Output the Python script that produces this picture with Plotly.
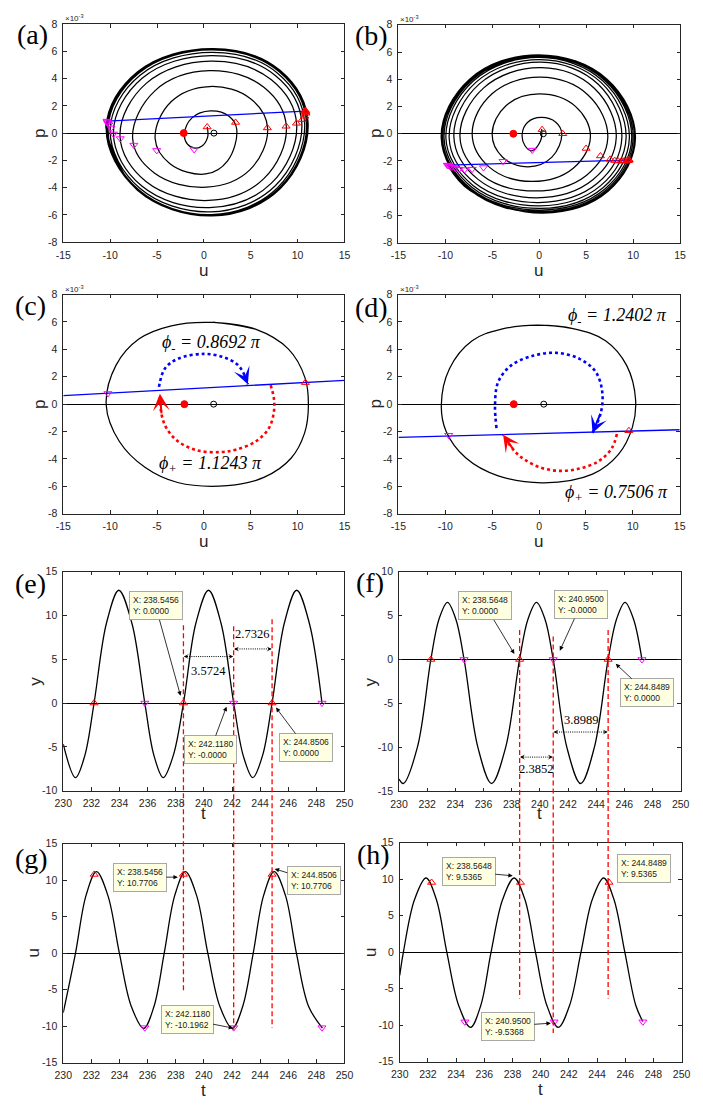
import plotly.graph_objects as go

W, H = 703, 1109

# ======================= DATA =======================
# tick labels
uv_ticks = [-15, -10, -5, 0, 5, 10, 15]
p_ticks = [-8, -6, -4, -2, 0, 2, 4, 6, 8]          # p in units of 1e-3
t_ticks = [230, 232, 234, 236, 238, 240, 242, 244, 246, 248, 250]
e_y_ticks = [-10, -5, 0, 5, 10, 15]
f_y_ticks = [-15, -10, -5, 0, 5, 10]
gh_u_ticks = [-15, -10, -5, 0, 5, 10, 15]

# (a) transient trajectory in (u, p)
a_traj_u = [0.35, 0.40, -0.20, -0.95, -1.75, -2.08, -1.27, 0.70, 2.68, 3.50, 2.53, 0.20, -3.62, -5.20, -3.50,
            0.60, 4.98, 6.80, 4.90, 0.30, -5.29, -7.60, -5.20, 0.60, 6.40, 8.80, 6.37, 0.50, -6.18, -8.95,
            -6.12, 0.70, 7.20, 9.90, 7.18, 0.60, -6.65, -9.65, -6.59, 0.80, 7.62, 10.45, 7.59, 0.70, -6.86,
            -10.00, -6.81, 0.90, 7.86, 10.75, 7.83, 0.80, -6.99, -10.22, -6.96, 0.90, 8.01, 10.95, 8.01, 0.90,
            -7.05, -10.35, -7.02, 1.00, 8.11, 11.05, 8.08, 0.90, -7.10, -10.42, -7.07, 1.00, 8.15, 11.12, 8.13,
            0.90, -7.12, -10.45, -10.33]
a_traj_p = [0.45, -0.30, -0.95, -1.10, -0.81, -0.10, 1.12, 1.63, 1.24, 0.30, -2.03, -3.00, -2.24, -0.40, 2.30,
            3.42, 2.52, 0.35, -2.70, -3.97, -2.92, -0.40, 3.12, 4.58, 3.37, 0.45, -3.36, -4.94, -3.55, -0.20,
            3.67, 5.28, 3.91, 0.60, -3.69, -5.47, -3.87, 0.00, 4.02, 5.69, 4.23, 0.70, -3.88, -5.78, -4.03,
            0.20, 4.25, 5.93, 4.40, 0.70, -4.02, -5.98, -4.14, 0.30, 4.40, 6.10, 4.52, 0.70, -4.05, -6.02,
            -4.15, 0.35, 4.45, 6.15, 4.55, 0.70, -4.07, -6.05, -4.16, 0.40, 4.50, 6.20, 4.59, 0.70, -4.09,
            -6.08, -4.18, 0.40, 0.88]
a_up_u = [0.35, 3.38, 6.77, 8.77, 9.88, 10.50, 10.75, 10.88, 10.86, 10.85, 10.84, 10.83]
a_up_p = [0.45, 0.78, 0.38, 0.50, 0.72, 0.99, 1.24, 1.45, 1.52, 1.57, 1.62, 1.66]
a_dn_u = [-1.04, -5.03, -7.47, -8.92, -9.65, -9.90, -10.14, -10.25, -10.30, -10.33]
a_dn_p = [-1.20, -1.27, -0.88, -0.40, -0.06, 0.38, 0.62, 0.75, 0.82, 0.88]
a_fix_u = [-2.15]
a_ctr_u = [1.07]
a_sec_u = [-10.33, 10.84]
a_sec_p = [0.88, 1.62]

# (b) transient trajectory in (u, p)
b_traj_u = [0.25, 0.15, -0.78, -1.52, -1.82, -1.23, 0.20, 1.76, 2.40, 1.35, -1.20, -3.90, -5.02, -3.55, 0.00,
            3.85, 5.45, 3.62, -0.80, -5.29, -7.15, -5.03, 0.10, 5.19, 7.30, 5.01, -0.50, -6.12, -8.45, -5.92,
            0.20, 5.86, 8.20, 5.71, -0.30, -6.52, -9.10, -6.38, 0.20, 6.28, 8.80, 6.19, -0.10, -6.82, -9.60,
            -6.76, 0.10, 6.57, 9.25, 6.54, 0.00, -7.03, -9.95, -7.03, 0.00, 6.79, 9.60, 6.82, 0.10, -7.15,
            -10.15, -7.18, 0.00, 6.96, 9.85, 6.99, 0.10, -7.25, -10.30, -7.28, 0.00, 7.07, 10.00, 7.13, 0.20,
            -7.29, -10.40, -7.35, 0.00, 7.18, 10.15, 7.26, 0.30, -7.30, -10.45, -7.42, -0.10, 7.22, 10.25,
            7.36, 0.40, -7.31, -9.75]
b_traj_p = [0.35, -0.50, -1.25, -0.88, 0.00, 0.85, 1.20, 0.85, 0.00, -1.72, -2.43, -1.72, 0.00, 2.06, 2.92,
            2.01, -0.20, -2.53, -3.50, -2.47, 0.00, 2.94, 4.15, 2.85, -0.30, -3.06, -4.20, -3.03, -0.20, 3.37,
            4.85, 3.34, -0.30, -3.38, -4.70, -3.35, -0.20, 3.66, 5.25, 3.63, -0.30, -3.64, -5.05, -3.64, -0.30,
            3.77, 5.45, 3.77, -0.30, -3.81, -5.30, -3.81, -0.30, 3.87, 5.60, 3.87, -0.30, -3.94, -5.48, -3.94,
            -0.30, 3.93, 5.68, 3.93, -0.30, -4.05, -5.60, -4.05, -0.30, 3.97, 5.74, 3.97, -0.30, -4.12, -5.70,
            -4.12, -0.30, 4.00, 5.78, 4.00, -0.30, -4.17, -5.78, -4.17, -0.30, 4.01, 5.80, 4.01, -0.30, -4.20,
            -5.82, -4.20, -2.30]
b_up_u = [0.30, 2.50, 4.99, 6.52, 7.55, 8.04, 8.40, 8.75, 9.05, 9.30, 9.45, 9.55, 9.58]
b_up_p = [0.30, 0.00, -1.08, -1.63, -1.88, -1.97, -2.00, -2.00, -2.00, -2.00, -1.98, -1.95, -1.92]
b_dn_u = [-0.75, -3.86, -5.94, -7.15, -7.95, -8.55, -8.95, -9.30, -9.55, -9.70, -9.80]
b_dn_p = [-1.20, -2.02, -2.48, -2.60, -2.63, -2.60, -2.52, -2.45, -2.38, -2.33, -2.30]
b_fix_u = [-2.76]
b_ctr_u = [0.43]
b_sec_u = [-9.80, 9.58]
b_sec_p = [-2.30, -1.93]

# (c) steady cycle (closed; first point repeated after the last for a smooth join)
c_cyc_u = [1.00, 5.50, 9.00, 10.80, 11.15, 10.75, 9.30, 6.40, 2.50, -2.80, -6.25, -9.03, -10.42, -9.38, -6.94,
           -3.47, 1.00, 5.50]
c_cyc_p = [5.96, 5.47, 4.03, 1.90, -0.10, -2.10, -3.95, -5.35, -5.95, -5.72, -4.63, -2.71, -0.06, 2.83, 4.75,
           5.72, 5.96, 5.47]
c_up_u, c_up_p = [10.83], [1.57]
c_dn_u, c_dn_p = [-10.24], [0.78]
c_fix_u, c_ctr_u = [-2.08], [1.04]
c_sec_u, c_sec_p = [-15, 15], [0.62, 1.74]
c_arc_minus_u = [-4.79, -4.17, -2.78, 0.00, 2.08, 3.47, 4.17, 4.69]
c_arc_minus_p = [1.26, 2.59, 3.31, 3.67, 3.43, 2.95, 2.35, 1.45]
c_arc_plus_u = [7.12, 7.47, 7.47, 6.94, 5.56, 3.47, 1.74, -0.69, -2.78, -3.99, -4.51, -4.69]
c_arc_plus_p = [1.38, 0.42, -0.54, -1.75, -2.71, -3.31, -3.50, -3.38, -2.71, -1.75, -0.78, 0.75]
c_phi_minus, c_phi_plus = 0.8692, 1.1243

# (d) steady cycle (closed; first point repeated after the last for a smooth join)
d_cyc_u = [-0.20, 3.62, 7.09, 9.34, 10.30, 9.95, 8.47, 5.70, 0.50, -4.36, -7.83, -9.91, -10.43, -9.56, -7.14,
           -4.01, -0.20, 3.62]
d_cyc_p = [5.76, 5.52, 4.63, 2.83, 0.30, -1.70, -3.67, -5.11, -5.74, -5.23, -3.91, -1.99, -0.06, 2.59, 4.63,
           5.47, 5.76, 5.52]
d_up_u, d_up_p = [9.58], [-1.94]
d_dn_u, d_dn_p = [-9.64], [-2.27]
d_fix_u, d_ctr_u = [-2.70], [0.50]
d_sec_u, d_sec_p = [-15, 15], [-2.42, -1.87]
d_arc_minus_u = [-4.54, -4.70, -4.36, -2.97, -0.54, 1.88, 4.31, 6.05, 6.74, 6.60, 5.70]
d_arc_minus_p = [-1.75, -0.06, 1.62, 2.83, 3.55, 3.74, 3.31, 2.35, 0.90, -0.60, -2.10]
d_arc_plus_u = [8.30, 7.78, 6.39, 4.31, 2.23, 0.15, -1.58, -2.62, -3.84]
d_arc_plus_p = [-2.18, -3.19, -4.15, -4.70, -4.87, -4.63, -4.03, -3.43, -2.23]
d_phi_minus, d_phi_plus = 1.2402, 0.7506

# (e) y(t)
e_t = [230.0, 230.87, 231.53, 232.19, 233.07, 233.95, 234.88, 235.80, 236.45, 237.11, 237.82, 238.55, 239.43,
       240.33, 241.22, 242.12, 242.80, 243.48, 244.17, 244.85, 245.72, 246.60, 247.50, 248.40]
e_y = [-4.7, -8.5, -6.0, 0.0, 9.1, 12.86, 9.1, 0.0, -6.0, -8.5, -6.0, 0.0, 9.1, 12.86, 9.1, 0.0, -6.0, -8.5,
       -6.0, 0.0, 9.1, 12.86, 9.1, 0.0]
e_up_t, e_up_y = [232.19, 238.5456, 244.8506], [0.0, 0.0, 0.0]
e_dn_t, e_dn_y = [235.80, 242.1180, 248.40], [0.0, 0.0, 0.0]
e_tip_x = [238.5456, 242.1180, 244.8506]
e_tip_y = [0.0, -0.0, 0.0]

# (f) y(t)
f_t = [230.0, 230.30, 231.30, 232.26, 232.84, 233.44, 234.03, 234.62, 235.60, 236.57, 237.57, 238.56, 239.16,
       239.76, 240.36, 240.95, 241.92, 242.90, 243.87, 244.85, 245.45, 246.05, 246.65, 247.25]
f_y = [-13.6, -14.1, -10.0, 0.0, 4.6, 6.5, 4.6, 0.0, -10.0, -14.1, -10.0, 0.0, 4.6, 6.5, 4.6, 0.0, -10.0,
       -14.1, -10.0, 0.0, 4.6, 6.5, 4.6, 0.0]
f_up_t, f_up_y = [232.26, 238.5648, 244.8489], [0.0, 0.0, 0.0]
f_dn_t, f_dn_y = [234.62, 240.9500, 247.25], [0.0, 0.0, 0.0]
f_tip_x = [238.5648, 240.9500, 244.8489]
f_tip_y = [0.0, -0.0, 0.0]

# (g) u(t)
g_t = [230.0, 230.87, 231.62, 232.36, 233.17, 233.99, 234.84, 235.72, 236.45, 237.18, 237.93, 238.68, 239.48,
       240.28, 241.14, 242.02, 242.76, 243.51, 244.25, 245.00, 245.80, 246.58, 247.45, 248.43]
g_u = [-8.15, 0.0, 7.9, 11.15, 7.9, 0.0, -7.3, -10.3, -7.3, 0.0, 7.9, 11.15, 7.9, 0.0, -7.3, -10.3, -7.3, 0.0,
       7.9, 11.15, 7.9, 0.0, -7.3, -10.25]
g_up_t, g_up_u = [232.20, 238.5456, 244.8506], [10.77, 10.7706, 10.7706]
g_dn_t, g_dn_u = [235.80, 242.1180, 248.40], [-10.20, -10.1962, -10.20]
g_tip_x = [238.5456, 244.8506, 242.1180]
g_tip_y = [10.7706, 10.7706, -10.1962]

# (h) u(t)
h_t = [230.0, 230.26, 231.05, 231.87, 232.60, 233.34, 234.18, 235.02, 235.75, 236.48, 237.30, 238.12, 238.88,
       239.63, 240.44, 241.25, 242.05, 242.86, 243.66, 244.47, 245.20, 245.97, 246.75, 247.25]
h_u = [-3.2, 0.0, 7.2, 10.15, 7.2, 0.0, -7.3, -10.3, -7.3, 0.0, 7.2, 10.15, 7.2, 0.0, -7.3, -10.3, -7.3, 0.0,
       7.2, 10.15, 7.2, 0.0, -7.3, -9.5]
h_up_t, h_up_u = [232.26, 238.5648, 244.8489], [9.5365, 9.5365, 9.5365]
h_dn_t, h_dn_u = [234.62, 240.9500, 247.25], [-9.5368, -9.5368, -9.5368]
h_tip_x = [238.5648, 240.9500, 244.8489]
h_tip_y = [9.5365, -9.5368, 9.5365]

# ======================= LAYOUT HELPERS =======================
FRAMES = {  # left, right, top, bottom (pixels)
    1: (55.7, 344.3, 18.3, 238.7), 2: (399.7, 688.7, 19.0, 239.3),
    3: (55.7, 344.3, 291.7, 513.3), 4: (399.7, 688.3, 291.7, 513.3),
    5: (55.7, 344.3, 571.7, 793.3), 6: (400.3, 689.3, 571.7, 794.0),
    7: (55.7, 344.3, 846.7, 1068.3), 8: (401.0, 690.3, 845.7, 1067.3),
}


def X(px):
    return px / W


def Y(py):
    return 1 - py / H


def xn(k):
    return 'x' if k == 1 else f'x{k}'


def yn(k):
    return 'y' if k == 1 else f'y{k}'


RED, MAG, BLUE, INK = '#ff0000', '#ff00ff', '#0000ff', '#262626'
SANS = 'Liberation Sans, Arial, sans-serif'
SERIF = 'Liberation Serif, Times New Roman, serif'

fig = go.Figure()


def tr(k, x, y, **kw):
    fig.add_trace(go.Scatter(x=x, y=y, xaxis=xn(k), yaxis=yn(k), showlegend=False, hoverinfo='skip', **kw))


def curve(k, x, y, color='black', width=1.2, smooth=1.1, dash=None):
    tr(k, x, y, mode='lines', line=dict(color=color, width=width, shape='spline', smoothing=smooth, dash=dash))


def marks(k, x, y, symbol, color, size=7, lw=1.0):
    tr(k, x, y, mode='markers', marker=dict(symbol=symbol, size=size, color=color, line=dict(color=color, width=lw)))


def head(k, tipx, tipy, tailx, taily, color, size, width, style=3):
    fig.add_annotation(xref=xn(k), yref=yn(k), x=tipx, y=tipy, ax=tailx, ay=taily, axref=xn(k), ayref=yn(k),
                       text='', showarrow=True, arrowhead=style, arrowsize=size, arrowwidth=width,
                       arrowcolor=color, standoff=0)


# ---------------- panels (a)-(d): phase plane ----------------
phase = [
    (1, a_traj_u, a_traj_p, a_up_u, a_up_p, a_dn_u, a_dn_p, a_fix_u, a_ctr_u, a_sec_u, a_sec_p),
    (2, b_traj_u, b_traj_p, b_up_u, b_up_p, b_dn_u, b_dn_p, b_fix_u, b_ctr_u, b_sec_u, b_sec_p),
    (3, c_cyc_u, c_cyc_p, c_up_u, c_up_p, c_dn_u, c_dn_p, c_fix_u, c_ctr_u, c_sec_u, c_sec_p),
    (4, d_cyc_u, d_cyc_p, d_up_u, d_up_p, d_dn_u, d_dn_p, d_fix_u, d_ctr_u, d_sec_u, d_sec_p),
]
for k, tu, tp, uu, up, du, dp, fx, cx, su, sp in phase:
    curve(k, tu, tp, width=1.25, smooth=1.1)
    tr(k, su, sp, mode='lines', line=dict(color=BLUE, width=1.3))
    if k == 3:
        curve(k, c_arc_minus_u, c_arc_minus_p, color=BLUE, width=2.6, smooth=1.0, dash='dot')
        curve(k, c_arc_plus_u, c_arc_plus_p, color=RED, width=2.6, smooth=1.0, dash='dot')
        head(k, c_arc_minus_u[-1], c_arc_minus_p[-1], c_arc_minus_u[-2], c_arc_minus_p[-2], BLUE, 1.4, 2)
        head(k, c_arc_plus_u[-1], c_arc_plus_p[-1], c_arc_plus_u[-2], c_arc_plus_p[-2], RED, 1.4, 2)
    if k == 4:
        curve(k, d_arc_minus_u, d_arc_minus_p, color=BLUE, width=2.6, smooth=1.0, dash='dot')
        curve(k, d_arc_plus_u, d_arc_plus_p, color=RED, width=2.6, smooth=1.0, dash='dot')
        head(k, d_arc_minus_u[-1], d_arc_minus_p[-1], d_arc_minus_u[-2], d_arc_minus_p[-2], BLUE, 1.4, 2)
        head(k, d_arc_plus_u[-1], d_arc_plus_p[-1], d_arc_plus_u[-2], d_arc_plus_p[-2], RED, 1.4, 2)
    marks(k, fx, [0] * len(fx), 'circle', RED, size=7)
    marks(k, cx, [0] * len(cx), 'circle-open', 'black', size=6)
    marks(k, uu, up, 'triangle-up-open', RED, size=7)
    marks(k, du, dp, 'triangle-down-open', MAG, size=7)

# phase labels
phi_txt = [
    (3, 0.85, 4.45, '-', c_phi_minus), (3, 0.73, -4.40, '+', c_phi_plus),
    (4, 8.38, 6.39, '-', d_phi_minus), (4, 8.28, -6.53, '+', d_phi_plus),
]
for k, x0, y0, sgn, val in phi_txt:
    fig.add_annotation(xref=xn(k), yref=yn(k), x=x0, y=y0, showarrow=False,
                       text=f'<i>\u03d5<sub>{sgn}</sub> = {val:.4f} \u03c0</i>',
                       font=dict(family=SERIF, size=18, color='black'))

# ---------------- panels (e)-(h): time series ----------------
series = [
    (5, e_t, e_y, e_up_t, e_up_y, e_dn_t, e_dn_y),
    (6, f_t, f_y, f_up_t, f_up_y, f_dn_t, f_dn_y),
    (7, g_t, g_u, g_up_t, g_up_u, g_dn_t, g_dn_u),
    (8, h_t, h_u, h_up_t, h_up_u, h_dn_t, h_dn_u),
]
for k, tt, vv, ut, uv, dt, dv in series:
    curve(k, tt, vv, width=1.3, smooth=1.0)
    marks(k, ut, uv, 'triangle-up-open', RED, size=7)
    marks(k, dt, dv, 'triangle-down-open', MAG, size=7)

# red dashed markers running through (e)/(g) and (f)/(h)
vlines = [
    (5, e_tip_x, [626, 627, 620], [998, 1035, 1033]),
    (6, f_tip_x, [630.7, 637.3, 630.7], [1003.3, 1038.3, 1003.3]),
]
for k, ts, tops, bots in vlines:
    for t, a, b in zip(ts, tops, bots):
        fig.add_shape(type='line', xref=xn(k), yref='paper', x0=t, x1=t, y0=Y(a), y1=Y(b),
                      line=dict(color=RED, width=1.3, dash='5px,3px'), layer='above')

# interval arrows
spans = [
    (5, e_tip_x[0], e_tip_x[1], 5.3, 240.36, 3.68),
    (5, e_tip_x[1], e_tip_x[2], 6.17, 243.40, 7.86),
    (6, f_tip_x[0], f_tip_x[1], -11.1, 239.74, -12.5),
    (6, f_tip_x[1], f_tip_x[2], -8.25, 242.92, -6.9),
]
for k, t1, t2, yv, lx, ly in spans:
    tr(k, [t1 + 0.1, t2 - 0.1], [yv, yv], mode='lines', line=dict(color='black', width=1, dash='1px,1.2px'))
    head(k, t2 - 0.03, yv, t2 - 0.4, yv, 'black', 0.85, 1)
    head(k, t1 + 0.03, yv, t1 + 0.4, yv, 'black', 0.85, 1)
    fig.add_annotation(xref=xn(k), yref=yn(k), x=lx, y=ly, showarrow=False, text=f'{t2 - t1:.4f}',
                       font=dict(family=SERIF, size=12.5, color='black'))

# data tips: (panel, X, Y, arrow tip x, arrow tip y, box dx, box dy in px)
tips = [
    (5, e_tip_x[0], e_tip_y[0], 238.34, 0.83, -25, -90),
    (5, e_tip_x[1], e_tip_y[1], 241.61, -0.41, -16, 43),
    (5, e_tip_x[2], e_tip_y[2], 245.13, -0.52, 30, 40),
    (6, f_tip_x[0], f_tip_y[0], 238.19, 0.63, -29, -48),
    (6, f_tip_x[1], f_tip_y[1], 241.42, 1.00, 21, -46),
    (6, f_tip_x[2], f_tip_y[2], 245.39, -0.49, 31, 29),
    (7, g_tip_x[0], g_tip_y[0], 238.15, 10.40, -38, 0),
    (7, g_tip_x[1], g_tip_y[1], 245.04, 11.53, 39, 12),
    (7, g_tip_x[2], g_tip_y[2], 242.08, -10.26, -46, -9),
    (8, h_tip_x[0], h_tip_y[0], 238.02, 10.45, -44, -4),
    (8, h_tip_x[1], h_tip_y[1], 240.72, -9.72, -43, 3),
]
TIPBOX = dict(bgcolor='#ffffe1', bordercolor='#a8a8a8', borderwidth=1, borderpad=3, align='left',
              font=dict(family=SANS, size=8.5, color='#1a1a1a'))
for k, xv, yv, px_, py_, dx, dy in tips:
    fig.add_annotation(xref=xn(k), yref=yn(k), x=px_, y=py_, ax=dx, ay=dy, text=f'X: {xv:.4f}<br>Y: {yv:.4f}',
                       showarrow=True, arrowhead=2, arrowsize=1.1, arrowwidth=0.8, arrowcolor='black', **TIPBOX)
fig.add_annotation(xref=xn(8), yref=yn(8), x=247.35, y=11.44, showarrow=False,
                   text=f'X: {h_tip_x[2]:.4f}<br>Y: {h_tip_y[2]:.4f}', **TIPBOX)

# ---------------- axes ----------------
AX = dict(showline=True, linecolor=INK, linewidth=0.8, mirror='ticks', ticks='inside', ticklen=3.5,
          tickwidth=0.8, tickcolor=INK, showgrid=False, fixedrange=True, ticklabelstandoff=3,
          tickfont=dict(family=SANS, size=10.5, color=INK))
xticks = {1: uv_ticks, 2: uv_ticks, 3: uv_ticks, 4: uv_ticks, 5: t_ticks, 6: t_ticks, 7: t_ticks, 8: t_ticks}
yticks = {1: p_ticks, 2: p_ticks, 3: p_ticks, 4: p_ticks, 5: e_y_ticks, 6: f_y_ticks, 7: gh_u_ticks, 8: gh_u_ticks}
lay = {}
for k, (l, r, t, b) in FRAMES.items():
    xs, ys = xticks[k], yticks[k]
    lay['xaxis' if k == 1 else f'xaxis{k}'] = dict(
        AX, domain=[X(l), X(r)], anchor=yn(k), range=[xs[0], xs[-1]], tickvals=xs,
        ticktext=[str(v) for v in xs], zeroline=False)
    lay['yaxis' if k == 1 else f'yaxis{k}'] = dict(
        AX, domain=[Y(b), Y(t)], anchor=xn(k), range=[ys[0], ys[-1]], tickvals=ys,
        ticktext=[str(v) for v in ys], zeroline=True, zerolinecolor='black', zerolinewidth=1.2)
fig.update_layout(**lay)

# axis titles, panel letters, exponent labels
titles = [
    ('u', 200, 267, 0), ('u', 543.7, 267, 0), ('u', 200, 541.7, 0), ('u', 543.7, 541.7, 0),
    ('t', 200, 816.7, 0), ('t', 544.8, 816.7, 0), ('t', 200, 1096.7, 0), ('t', 545.7, 1095, 0),
    ('p', 30.7, 128.5, -90), ('p', 376, 129, -90), ('p', 30.7, 402.5, -90), ('p', 376, 402.5, -90),
    ('y', 27.3, 682.5, -90), ('y', 371.3, 683, -90), ('u', 25, 957.5, -90), ('u', 370.3, 956.5, -90),
]
for txt, px_, py_, ang in titles:
    fig.add_annotation(xref='paper', yref='paper', x=X(px_), y=Y(py_), text=txt, showarrow=False,
                       textangle=ang, xanchor='center', yanchor='middle',
                       font=dict(family=SANS, size=17, color=INK))
letters = [('(a)', 24, 29), ('(b)', 372, 30), ('(c)', 22, 303), ('(d)', 372, 305),
           ('(e)', 22, 584), ('(f)', 370, 583), ('(g)', 23, 862), ('(h)', 374, 858)]
for txt, px_, py_ in letters:
    fig.add_annotation(xref='paper', yref='paper', x=X(px_), y=Y(py_), text=txt, showarrow=False,
                       xanchor='center', yanchor='middle', font=dict(family=SERIF, size=28, color='black'))
for k in (1, 2, 3, 4):
    l, r, t, b = FRAMES[k]
    fig.add_annotation(xref='paper', yref='paper', x=X(l), y=Y(t - 6), text='\u00d710<sup>-3</sup>',
                       showarrow=False, xanchor='left', yanchor='middle', font=dict(family=SANS, size=8, color=INK))

fig.update_layout(width=W, height=H, margin=dict(l=0, r=0, t=0, b=0), paper_bgcolor='white',
                  plot_bgcolor='white', showlegend=False)
fig.write_html('out.html')
